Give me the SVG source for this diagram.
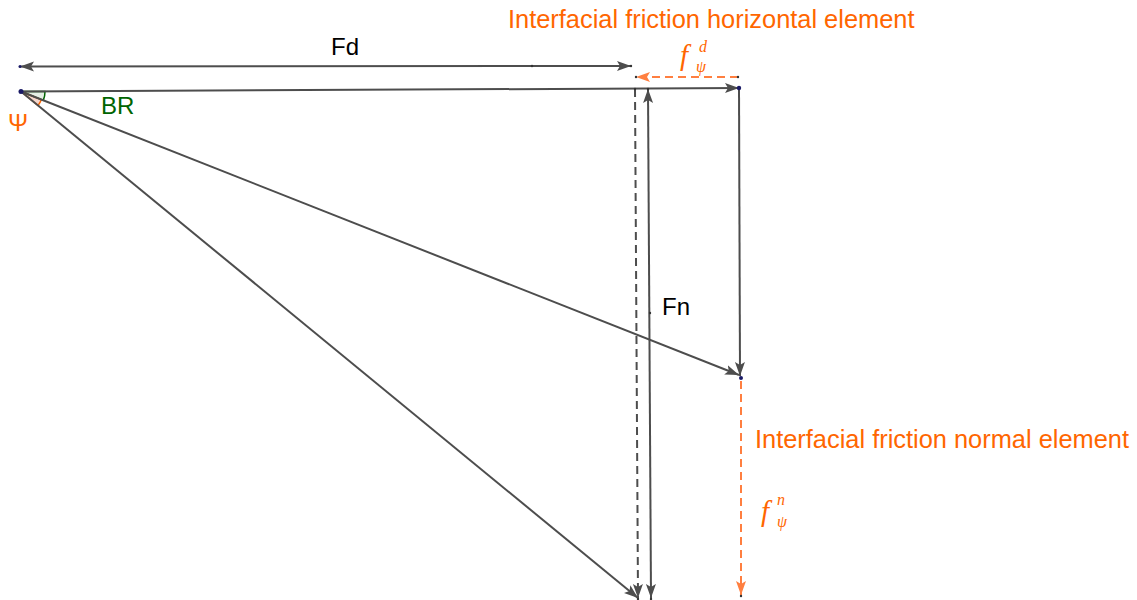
<svg xmlns="http://www.w3.org/2000/svg" width="1137" height="600" viewBox="0 0 1137 600">
<style>
.ln{stroke:#4d4d4d;stroke-width:2;fill:none}
.dash{stroke:#4d4d4d;stroke-width:2;fill:none;stroke-dasharray:8,5}
.odash{stroke:#ff7f40;stroke-width:2;fill:none;stroke-dasharray:8,5}
.lbl{font-family:"Liberation Sans",Arial,sans-serif;font-size:24px;fill:#000}
.or{font-family:"Liberation Sans",Arial,sans-serif;font-size:25.4px;fill:#ff6600}
.math{font-family:"Liberation Serif","Times New Roman",serif;font-style:italic;fill:#ff6600}
.pt{fill:#1a1a66}
.sp{fill:#333}
</style>
<defs>
<marker id="ah" markerUnits="userSpaceOnUse" markerWidth="15" markerHeight="11" refX="14" refY="5.5" orient="auto-start-reverse" viewBox="0 0 15 11">
<path d="M0,0.5 L14,5.5 L0,10.5 L3,5.5 Z" fill="#4d4d4d"/>
</marker>
<marker id="aho" markerUnits="userSpaceOnUse" markerWidth="15" markerHeight="11" refX="14" refY="5.5" orient="auto-start-reverse" viewBox="0 0 15 11">
<path d="M0,0.5 L14,5.5 L0,10.5 L3,5.5 Z" fill="#ff7f40"/>
</marker>
</defs>
<g id="angles">
<path d="M21,91.5 L45,91.4 A24,24 0 0 1 43.3,100.4 Z" fill="#006400" fill-opacity="0.1" stroke="#006400" stroke-width="1.5"/>
<path d="M21,91.5 L41.4,99.6 A22,22 0 0 1 38,105.5 Z" fill="#cc3300" fill-opacity="0.2" stroke="#ff6600" stroke-width="1.5"/>
</g>
<g id="connectors">
<line class="ln" x1="20" y1="66.5" x2="631" y2="66" marker-start="url(#ah)" marker-end="url(#ah)"/>
<line class="ln" x1="21" y1="91.5" x2="739" y2="88" marker-end="url(#ah)"/>
<line class="odash" x1="738" y1="77" x2="636" y2="77" marker-end="url(#aho)"/>
<line class="dash" x1="635" y1="89" x2="638" y2="598" marker-end="url(#ah)"/>
<line class="ln" x1="648" y1="89" x2="651" y2="598" marker-start="url(#ah)" marker-end="url(#ah)"/>
<line class="ln" x1="739" y1="88" x2="740" y2="376" marker-end="url(#ah)"/>
<line class="ln" x1="21" y1="91.5" x2="739" y2="375" marker-end="url(#ah)"/>
<line class="ln" x1="21" y1="91.5" x2="638" y2="598" marker-end="url(#ah)"/>
<line class="odash" x1="741" y1="381" x2="741" y2="595" marker-end="url(#aho)"/>
</g>
<g id="points">
<circle class="pt" cx="20" cy="66.5" r="1.5"/>
<circle class="sp" cx="532" cy="66" r="1.2"/>
<circle class="sp" cx="631" cy="66" r="1.2"/>
<circle class="sp" cx="636" cy="77" r="1.2"/>
<circle class="sp" cx="738" cy="77" r="1.2"/>
<circle class="pt" cx="21" cy="91.5" r="2.5"/>
<circle class="pt" cx="739" cy="88" r="2.2"/>
<circle class="sp" cx="635" cy="89" r="1.2"/>
<circle class="sp" cx="648" cy="89" r="1.2"/>
<circle class="sp" cx="650" cy="313" r="1.2"/>
<circle class="pt" cx="741" cy="378" r="2"/>
<circle class="sp" cx="638" cy="599" r="1.2"/>
<circle class="sp" cx="651" cy="599" r="1.2"/>
<circle class="sp" cx="741" cy="596" r="1.2"/>
</g>
<g id="label-horizontal"><text class="or" x="508" y="28">Interfacial friction horizontal element</text></g>
<g id="label-normal"><text class="or" x="755" y="448">Interfacial friction normal element</text></g>
<g id="label-Fd"><text class="lbl" x="331" y="55">Fd</text></g>
<g id="label-BR"><text class="lbl" x="101" y="114" style="fill:#006400">BR</text></g>
<g id="label-psi"><text class="lbl" x="8" y="131" style="fill:#ff6600">Ψ</text></g>
<g id="label-Fn"><text class="lbl" x="662" y="315">Fn</text></g>
<g id="label-fd">
<text class="math" x="680" y="65" font-size="29">f</text>
<text class="math" x="699" y="52" font-size="16">d</text>
<text class="math" x="696" y="72" font-size="16">ψ</text>
</g>
<g id="label-fn">
<text class="math" x="761" y="521" font-size="29">f</text>
<text class="math" x="777" y="505" font-size="16">n</text>
<text class="math" x="777" y="527" font-size="16">ψ</text>
</g>
</svg>
